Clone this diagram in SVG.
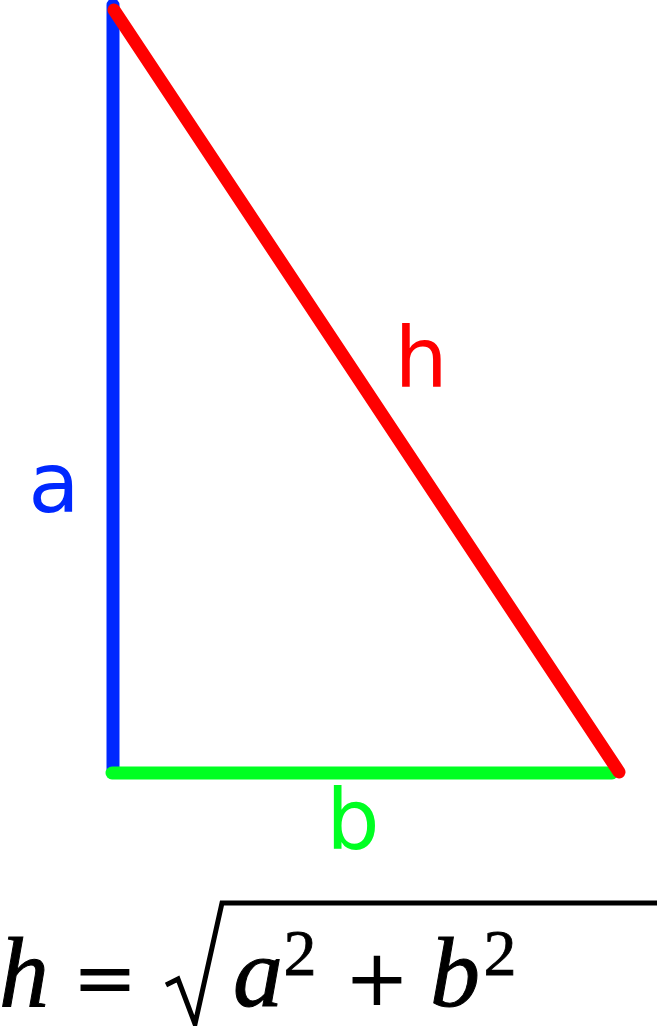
<svg xmlns="http://www.w3.org/2000/svg" width="657" height="1026" viewBox="0 0 657 1026">
<style>
.side{fill:none;stroke-width:13;stroke-linecap:round}
.lbl{font-family:"DejaVu Sans",sans-serif;font-size:84px;text-anchor:middle}
.m{font-family:"Liberation Serif",serif;font-style:italic;font-size:100px;text-anchor:middle;fill:#000;stroke:#000;stroke-width:1}
.op{font-family:"DejaVu Sans",sans-serif;font-size:78px;text-anchor:middle;fill:#000}
.sup{font-family:"Liberation Serif",serif;font-size:66px;text-anchor:middle;fill:#000;stroke:#000;stroke-width:0.8}
</style>
<rect width="657" height="1026" fill="#fff"/>
<g id="connectors">
<line id="side-a" class="side" x1="113" y1="5" x2="113" y2="772" stroke="#0028ff" stroke-linecap="butt"/>
<line id="side-b" class="side" x1="112" y1="773" x2="612" y2="773" stroke="#00ff22"/>
<line id="side-h" class="side" x1="114" y1="10" x2="619" y2="772" stroke="#ff0000"/>
</g>
<g id="label-a"><text class="lbl" x="54" y="512" fill="#0028ff">a</text></g>
<g id="label-h"><text class="lbl" x="421" y="387" fill="#ff0000">h</text></g>
<g id="label-b"><text class="lbl" x="353" y="849" fill="#00ff22">b</text></g>
<g id="formula">
<text class="m" x="24" y="1006">h</text>
<text class="op" x="105" y="1005">=</text>
<path d="M166,985 L178,979 L195,1024 L222,903 L657,903" fill="none" stroke="#000" stroke-width="5" stroke-linejoin="miter"/>
<text class="m" x="258" y="1006">a</text>
<text class="sup" x="300" y="975">2</text>
<text class="op" x="377" y="1005">+</text>
<text class="m" x="455" y="1006">b</text>
<text class="sup" x="500" y="975">2</text>
</g>
</svg>
